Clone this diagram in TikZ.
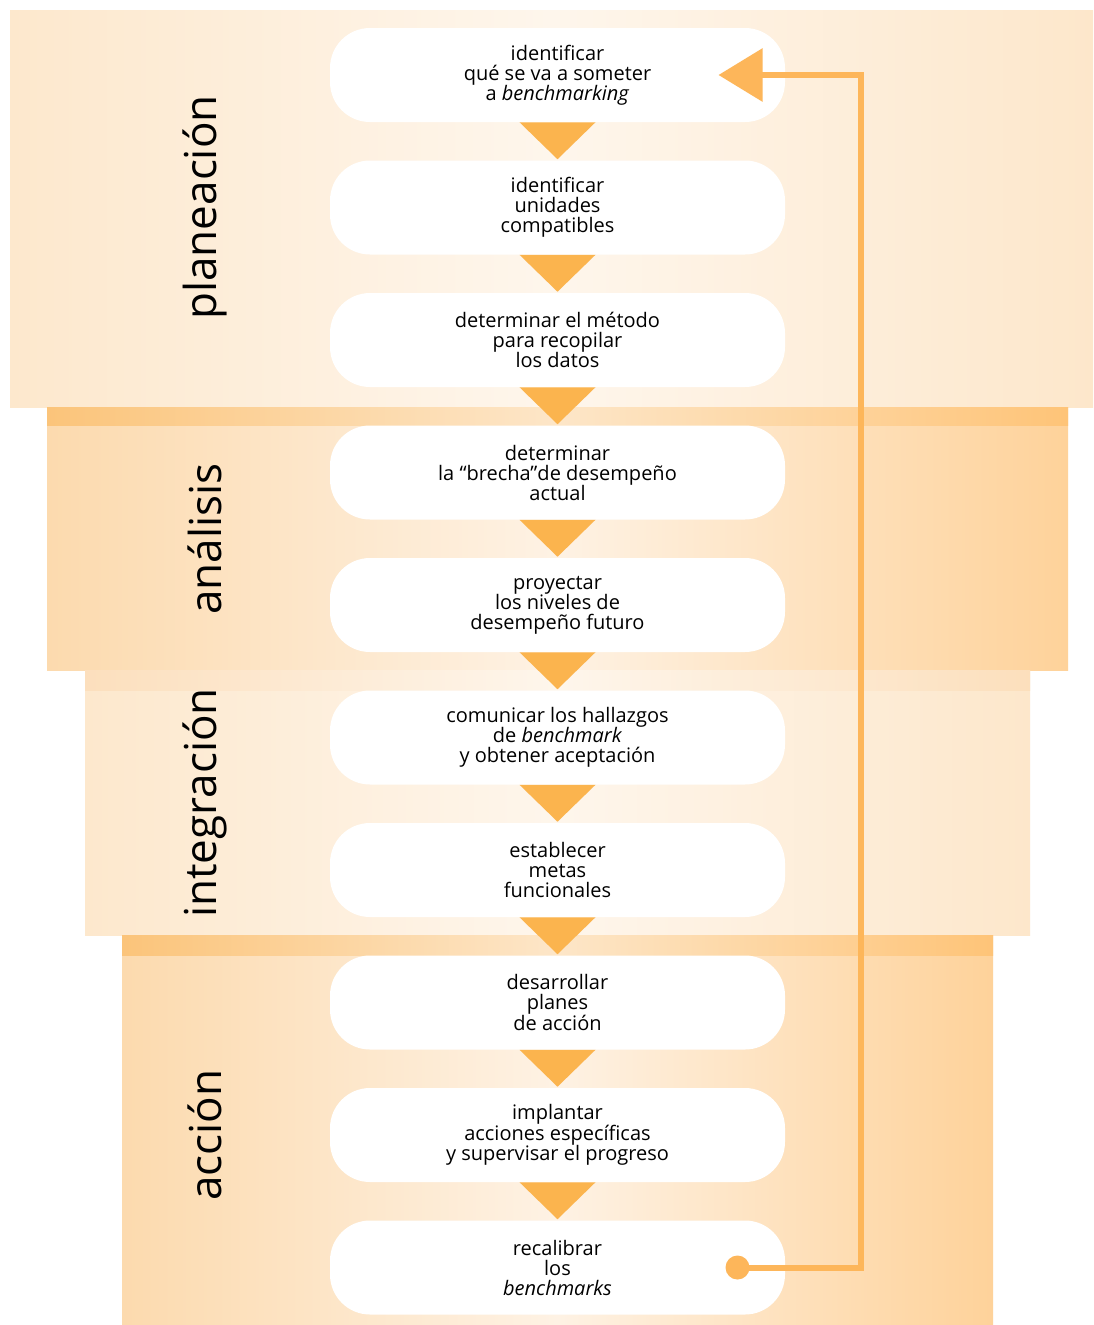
\documentclass[tikz,border=0pt]{standalone}
\usepackage{fontspec}
\setmainfont{Open Sans}
\usetikzlibrary{calc,arrows.meta}
\definecolor{tri}{HTML}{FBB44E}
\definecolor{fbline}{HTML}{FDB65A}
\definecolor{lightL}{HTML}{FDE8CD}
\definecolor{lightM}{HTML}{FEF6EC}
\definecolor{lightR}{HTML}{FDE7CB}
\definecolor{lightSL}{HTML}{FCDFBD}
\definecolor{lightSR}{HTML}{FCDFBC}
\definecolor{darkL}{HTML}{FCDAAE}
\definecolor{darkM}{HTML}{FEF2E4}
\definecolor{darkR}{HTML}{FED29A}
\definecolor{stripL}{HTML}{FBC47A}
\definecolor{stripM}{HTML}{FDE6C8}
\definecolor{stripR}{HTML}{FEC478}
\begin{document}
\begin{tikzpicture}[x=0.75pt,y=-0.75pt,
  stepbox/.style={fill=white, draw=none, rounded corners=30pt,
    minimum width=341.25pt, minimum height=70.5pt, inner sep=0pt,
    align=center, font=\fontsize{15pt}{15pt}\selectfont, text=black},
  phase/.style={rotate=90, font=\fontsize{33pt}{33pt}\selectfont, text=black, inner sep=0pt},
  tribox/.style={fill=tri, draw=none},
  lightband/.style={left color=lightL, right color=lightR, middle color=lightM},
  lightstrip/.style={left color=lightSL, right color=lightSR, middle color=lightM},
  darkband/.style={left color=darkL, right color=darkR, middle color=darkM},
  darkstrip/.style={left color=stripL, right color=stripR, middle color=stripM},
  fb/.style={draw=fbline, line width=4.5pt}
]
\useasboundingbox (0,0) rectangle (1093,1325);
\fill[white] (0,0) rectangle (1093,1325);

% bands
\shade[lightband] (10,10) rectangle (1093,407);
\shade[darkband] (47,407) rectangle (1068,670);
\shade[darkstrip] (47,407) rectangle (1068,425);
\shade[lightband] (85,670) rectangle (1030,935);
\shade[lightstrip] (85,670) rectangle (1030,690);
\shade[darkband] (122,935) rectangle (993,1325);
\shade[darkstrip] (122,935) rectangle (993,955);

% phase labels
\node[phase] (ph1) at (205,207.5) {planeación};
\node[phase] (ph2) at (205,539) {análisis};
\node[phase] (ph3) at (205,803) {integración};
\node[phase] (ph4) at (205,1135) {acción};

% steps
\node[stepbox] (n1) at (557.5,75) {identificar\\qué se va a someter\\a \textit{benchmarking}};
\node[stepbox] (n2) at (557.5,207.5) {identificar\\unidades\\compatibles};
\node[stepbox] (n3) at (557.5,340) {determinar el método\\para recopilar\\los datos};
\node[stepbox] (n4) at (557.5,472.5) {determinar\\la “brecha”de desempeño\\actual};
\node[stepbox] (n5) at (557.5,605) {proyectar\\los niveles de\\desempeño futuro};
\node[stepbox] (n6) at (557.5,737.5) {comunicar los hallazgos\\de \textit{benchmark}\\y obtener aceptación};
\node[stepbox] (n7) at (557.5,870) {establecer\\metas\\funcionales};
\node[stepbox] (n8) at (557.5,1002.5) {desarrollar\\planes\\de acción};
\node[stepbox] (n9) at (557.5,1135) {implantar\\acciones específicas\\y supervisar el progreso};
\node[stepbox] (n10) at (557.5,1267.5) {recalibrar\\los\\\textit{benchmarks}};

% triangle connectors
\foreach \a/\b in {n1/n2,n2/n3,n3/n4,n4/n5,n5/n6,n6/n7,n7/n8,n8/n9,n9/n10}{
  \fill[tribox] ($(\a.south)+(-38,0)$) -- ($(\a.south)+(38,0)$) -- ($(\b.north)+(0,-1)$) -- cycle;
}

% feedback loop
\coordinate (dot) at ($(n10.center)+(180,0)$);
\coordinate (tip) at ($(n1.center)+(161,0)$);
\draw[fb, -{Triangle[length=33pt,width=39pt]}] (dot) -- ($(dot)+(123,0)$) |- (tip);
\fill[fbline] (dot) circle[radius=12];
\end{tikzpicture}
\end{document}
